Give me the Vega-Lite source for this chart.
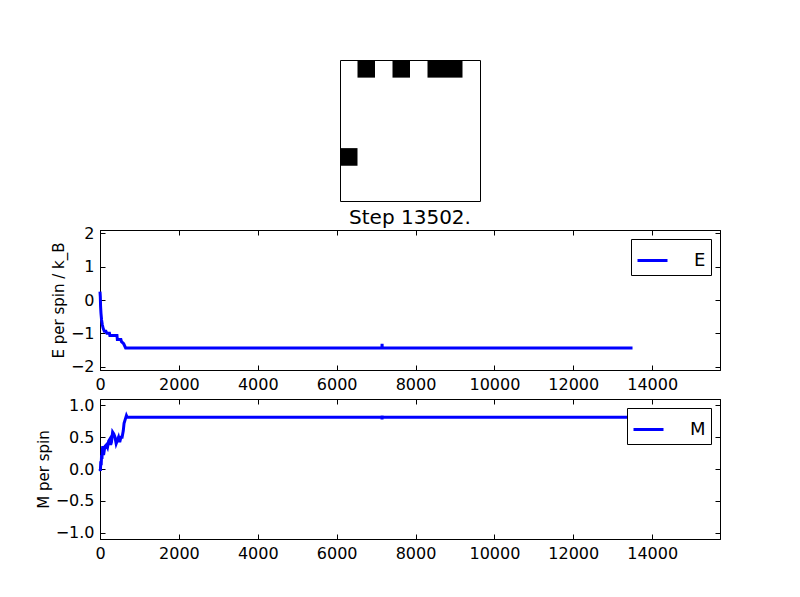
{
  "$schema": "https://vega.github.io/schema/vega-lite/v6.json",
  "autosize": {"type": "pad"},
  "padding": {"left": 35, "top": 59, "right": 5, "bottom": 5},
  "background": "white",
  "config": {
    "font": "DejaVu Sans",
    "view": {"stroke": "black", "strokeWidth": 1},
    "axis": {
      "domainColor": "black", "tickColor": "black", "labelColor": "black", "titleColor": "black",
      "labelFontSize": 16, "titleFontSize": 15, "titleFontWeight": "normal",
      "tickSize": -5, "labelPadding": 11, "grid": false, "labelFlush": false,
      "labelFont": "DejaVu Sans", "titleFont": "DejaVu Sans"
    },
    "legend": {
      "orient": "top-right", "offset": 9, "strokeColor": "black", "fillColor": "white",
      "padding": 5, "symbolType": "stroke", "symbolSize": 900, "symbolStrokeWidth": 3,
      "labelFontSize": 18, "labelOffset": 25, "title": null, "cornerRadius": 0,
      "labelFont": "DejaVu Sans", "labelColor": "black"
    },
    "title": {"fontSize": 20, "fontWeight": "normal", "color": "black", "anchor": "middle", "baseline": "alphabetic", "offset": -3, "font": "DejaVu Sans"}
  },
  "datasets": {
    "lattice": [
      {"row": 0, "col": 0, "spin": 1}, {"row": 0, "col": 1, "spin": -1}, {"row": 0, "col": 2, "spin": 1}, {"row": 0, "col": 3, "spin": -1},
      {"row": 0, "col": 4, "spin": 1}, {"row": 0, "col": 5, "spin": -1}, {"row": 0, "col": 6, "spin": -1}, {"row": 0, "col": 7, "spin": 1},
      {"row": 1, "col": 0, "spin": 1}, {"row": 1, "col": 1, "spin": 1}, {"row": 1, "col": 2, "spin": 1}, {"row": 1, "col": 3, "spin": 1},
      {"row": 1, "col": 4, "spin": 1}, {"row": 1, "col": 5, "spin": 1}, {"row": 1, "col": 6, "spin": 1}, {"row": 1, "col": 7, "spin": 1},
      {"row": 2, "col": 0, "spin": 1}, {"row": 2, "col": 1, "spin": 1}, {"row": 2, "col": 2, "spin": 1}, {"row": 2, "col": 3, "spin": 1},
      {"row": 2, "col": 4, "spin": 1}, {"row": 2, "col": 5, "spin": 1}, {"row": 2, "col": 6, "spin": 1}, {"row": 2, "col": 7, "spin": 1},
      {"row": 3, "col": 0, "spin": 1}, {"row": 3, "col": 1, "spin": 1}, {"row": 3, "col": 2, "spin": 1}, {"row": 3, "col": 3, "spin": 1},
      {"row": 3, "col": 4, "spin": 1}, {"row": 3, "col": 5, "spin": 1}, {"row": 3, "col": 6, "spin": 1}, {"row": 3, "col": 7, "spin": 1},
      {"row": 4, "col": 0, "spin": 1}, {"row": 4, "col": 1, "spin": 1}, {"row": 4, "col": 2, "spin": 1}, {"row": 4, "col": 3, "spin": 1},
      {"row": 4, "col": 4, "spin": 1}, {"row": 4, "col": 5, "spin": 1}, {"row": 4, "col": 6, "spin": 1}, {"row": 4, "col": 7, "spin": 1},
      {"row": 5, "col": 0, "spin": -1}, {"row": 5, "col": 1, "spin": 1}, {"row": 5, "col": 2, "spin": 1}, {"row": 5, "col": 3, "spin": 1},
      {"row": 5, "col": 4, "spin": 1}, {"row": 5, "col": 5, "spin": 1}, {"row": 5, "col": 6, "spin": 1}, {"row": 5, "col": 7, "spin": 1},
      {"row": 6, "col": 0, "spin": 1}, {"row": 6, "col": 1, "spin": 1}, {"row": 6, "col": 2, "spin": 1}, {"row": 6, "col": 3, "spin": 1},
      {"row": 6, "col": 4, "spin": 1}, {"row": 6, "col": 5, "spin": 1}, {"row": 6, "col": 6, "spin": 1}, {"row": 6, "col": 7, "spin": 1},
      {"row": 7, "col": 0, "spin": 1}, {"row": 7, "col": 1, "spin": 1}, {"row": 7, "col": 2, "spin": 1}, {"row": 7, "col": 3, "spin": 1},
      {"row": 7, "col": 4, "spin": 1}, {"row": 7, "col": 5, "spin": 1}, {"row": 7, "col": 6, "spin": 1}, {"row": 7, "col": 7, "spin": 1}
    ],
    "energy": [
      {"step": 0, "E": 0.25}, {"step": 8, "E": 0.1}, {"step": 15, "E": -0.2}, {"step": 25, "E": -0.4},
      {"step": 40, "E": -0.6}, {"step": 60, "E": -0.75}, {"step": 80, "E": -0.85}, {"step": 110, "E": -0.9375},
      {"step": 150, "E": -0.9375}, {"step": 175, "E": -1.0}, {"step": 240, "E": -1.0}, {"step": 250, "E": -1.0625},
      {"step": 430, "E": -1.0625}, {"step": 440, "E": -1.1875}, {"step": 530, "E": -1.1875}, {"step": 545, "E": -1.25},
      {"step": 600, "E": -1.3125}, {"step": 650, "E": -1.4375}, {"step": 7148, "E": -1.4375}, {"step": 7152, "E": -1.3125},
      {"step": 7156, "E": -1.4375}, {"step": 13502, "E": -1.4375}
    ],
    "magnet": [
      {"step": 0, "M": 0.0}, {"step": 10, "M": -0.03}, {"step": 20, "M": 0.12}, {"step": 30, "M": 0.06}, {"step": 40, "M": 0.22},
      {"step": 50, "M": 0.16}, {"step": 60, "M": 0.3}, {"step": 70, "M": 0.36}, {"step": 90, "M": 0.22}, {"step": 110, "M": 0.3},
      {"step": 130, "M": 0.36}, {"step": 160, "M": 0.38}, {"step": 190, "M": 0.34}, {"step": 220, "M": 0.44}, {"step": 250, "M": 0.47},
      {"step": 270, "M": 0.38}, {"step": 290, "M": 0.42}, {"step": 320, "M": 0.58}, {"step": 350, "M": 0.55}, {"step": 380, "M": 0.5},
      {"step": 410, "M": 0.4}, {"step": 440, "M": 0.45}, {"step": 470, "M": 0.5}, {"step": 500, "M": 0.42}, {"step": 530, "M": 0.5},
      {"step": 560, "M": 0.5}, {"step": 590, "M": 0.6}, {"step": 610, "M": 0.72}, {"step": 640, "M": 0.78}, {"step": 670, "M": 0.84},
      {"step": 690, "M": 0.8125}, {"step": 7148, "M": 0.8125}, {"step": 7151, "M": 0.78}, {"step": 7154, "M": 0.84},
      {"step": 7157, "M": 0.8125}, {"step": 13502, "M": 0.8125}
    ]
  },
  "spacing": 29,
  "center": true,
  "bounds": "flush",
  "resolve": {"scale": {"color": "independent"}, "legend": {"color": "independent"}},
  "vconcat": [
    {
      "width": 140, "height": 141,
      "data": {"name": "lattice"},
      "mark": {"type": "rect"},
      "encoding": {
        "x": {"field": "col", "type": "ordinal", "axis": null, "scale": {"paddingInner": 0, "paddingOuter": 0}},
        "y": {"field": "row", "type": "ordinal", "axis": null, "scale": {"paddingInner": 0, "paddingOuter": 0}},
        "color": {"field": "spin", "type": "nominal", "scale": {"domain": [-1, 1], "range": ["black", "rgba(255,255,255,0)"]}, "legend": null}
      }
    },
    {
      "width": 620, "height": 140,
      "title": {"text": "Step 13502."},
      "data": {"name": "energy"},
      "layer": [
        {
          "mark": {"type": "line", "strokeWidth": 3, "color": "#0000ff"},
          "encoding": {
            "x": {"field": "step", "type": "quantitative", "scale": {"domain": [0, 15720], "nice": false, "zero": false},
                  "axis": {"values": [0, 2000, 4000, 6000, 8000, 10000, 12000, 14000], "title": null, "format": "d"}},
            "y": {"field": "E", "type": "quantitative", "scale": {"domain": [-2.1, 2.1], "nice": false},
                  "axis": {"values": [-2, -1, 0, 1, 2], "title": "E per spin / k_B", "format": "d"}},
            "color": {"datum": "E", "type": "nominal", "scale": {"range": ["#0000ff"]}}
          }
        },
        {
          "mark": {"type": "line", "opacity": 0},
          "encoding": {
            "x": {"field": "step", "type": "quantitative", "scale": {"domain": [0, 15720], "nice": false, "zero": false},
                  "axis": {"orient": "top", "labels": false, "values": [0, 2000, 4000, 6000, 8000, 10000, 12000, 14000], "title": null}},
            "y": {"field": "E", "type": "quantitative", "scale": {"domain": [-2.1, 2.1], "nice": false},
                  "axis": {"orient": "right", "labels": false, "values": [-2, -1, 0, 1, 2], "title": null}}
          }
        }
      ],
      "resolve": {"axis": {"x": "independent", "y": "independent"}}
    },
    {
      "width": 620, "height": 140,
      "data": {"name": "magnet"},
      "layer": [
        {
          "mark": {"type": "line", "strokeWidth": 3, "color": "#0000ff"},
          "encoding": {
            "x": {"field": "step", "type": "quantitative", "scale": {"domain": [0, 15720], "nice": false, "zero": false},
                  "axis": {"values": [0, 2000, 4000, 6000, 8000, 10000, 12000, 14000], "title": null, "format": "d"}},
            "y": {"field": "M", "type": "quantitative", "scale": {"domain": [-1.1, 1.1], "nice": false},
                  "axis": {"values": [-1, -0.5, 0, 0.5, 1], "title": "M per spin", "format": ".1f"}},
            "color": {"datum": "M", "type": "nominal", "scale": {"range": ["#0000ff"]}}
          }
        },
        {
          "mark": {"type": "line", "opacity": 0},
          "encoding": {
            "x": {"field": "step", "type": "quantitative", "scale": {"domain": [0, 15720], "nice": false, "zero": false},
                  "axis": {"orient": "top", "labels": false, "values": [0, 2000, 4000, 6000, 8000, 10000, 12000, 14000], "title": null}},
            "y": {"field": "M", "type": "quantitative", "scale": {"domain": [-1.1, 1.1], "nice": false},
                  "axis": {"orient": "right", "labels": false, "values": [-1, -0.5, 0, 0.5, 1], "title": null}}
          }
        }
      ],
      "resolve": {"axis": {"x": "independent", "y": "independent"}}
    }
  ]
}
